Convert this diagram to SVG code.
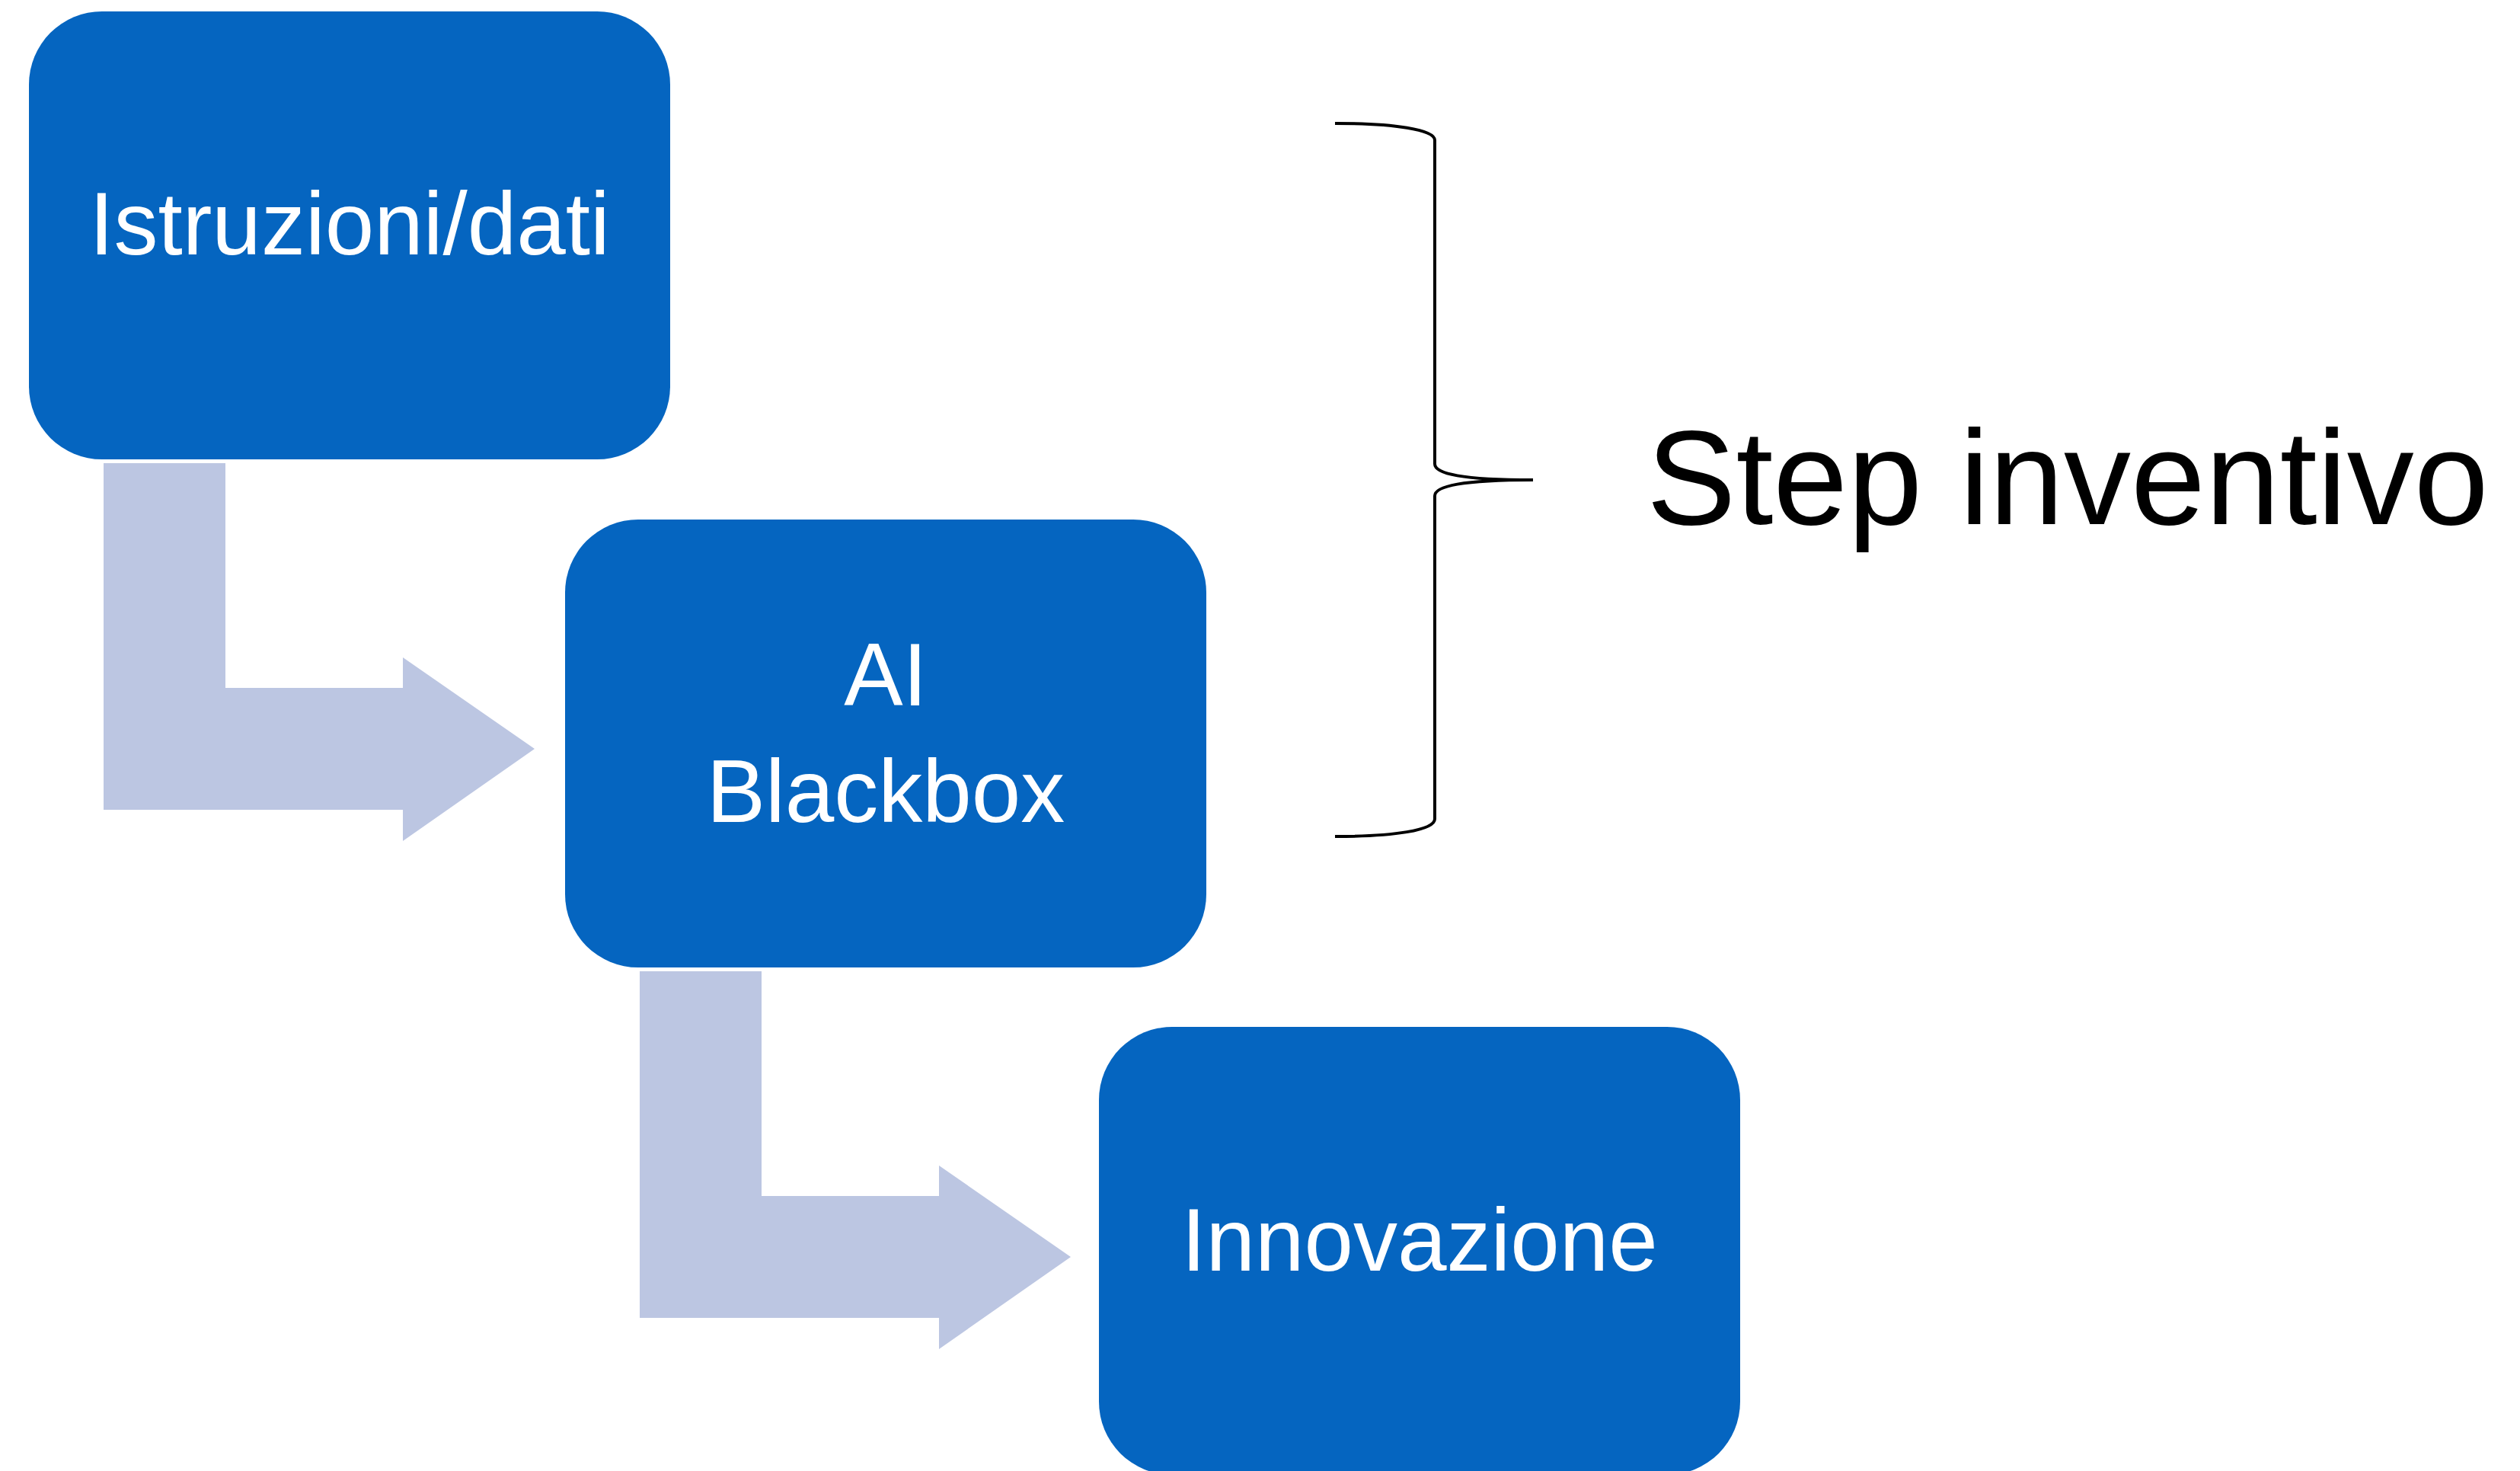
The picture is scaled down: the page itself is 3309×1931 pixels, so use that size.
<svg xmlns="http://www.w3.org/2000/svg" width="3309" height="1931" viewBox="0 0 3309 1931">
<style>
.box{fill:#0565C0}
.arrow{fill:#BCC6E2}
.lbl{font-family:"Liberation Sans",Arial,sans-serif;fill:#FFFFFF;text-anchor:middle;font-size:116px}
.brace{fill:none;stroke:#000000;stroke-width:4}
.side{font-family:"Liberation Sans",Arial,sans-serif;fill:#000000;font-size:176px}
</style>
<rect width="3309" height="1931" fill="#FFFFFF"/>
<g id="connectors">
<polygon class="arrow" points="136,608 296,608 296,903 529,903 529,863 702,983 529,1104 529,1063 136,1063"/>
<polygon class="arrow" points="840,1275 1000,1275 1000,1570 1233,1570 1233,1530 1406,1650 1233,1771 1233,1730 840,1730"/>
</g>
<g id="node-istruzioni">
<rect class="box" x="38" y="15" width="842" height="588" rx="96" ry="96"/>
<text class="lbl" x="459" y="334">Istruzioni/dati</text>
</g>
<g id="node-ai">
<rect class="box" x="742" y="682" width="842" height="588" rx="96" ry="96"/>
<text class="lbl" x="1163" y="926">AI</text>
<text class="lbl" x="1163" y="1079">Blackbox</text>
</g>
<g id="node-innovazione">
<rect class="box" x="1443" y="1348" width="842" height="588" rx="96" ry="96"/>
<text class="lbl" x="1864" y="1668">Innovazione</text>
</g>
<g id="brace">
<path class="brace" d="M1753,162 C1830,162 1884,170 1884,184 L1884,609 C1884,622 1920,630 2013,630 M2013,630 C1920,630 1884,638 1884,651 L1884,1075 C1884,1090 1830,1098 1753,1098"/>
<text class="side" x="2162" y="688">Step inventivo</text>
</g>
</svg>
